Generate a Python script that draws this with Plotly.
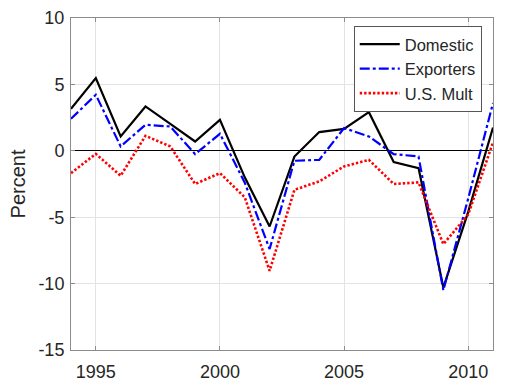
import plotly.graph_objects as go

years = list(range(1994, 2012))
domestic = [3.16, 5.47, 1.08, 3.34, 2.03, 0.70, 2.33, -2.0, -5.7, -0.43, 1.41, 1.65, 2.91, -0.85, -1.30, -10.3, -4.6, 1.75]
exporters = [2.41, 4.22, 0.33, 1.96, 1.83, -0.25, 1.28, -2.4, -7.4, -0.75, -0.68, 1.71, 1.08, -0.25, -0.43, -10.5, -3.6, 3.59]
usmult = [-1.68, -0.23, -1.88, 1.13, 0.33, -2.50, -1.68, -3.5, -9.04, -2.94, -2.30, -1.18, -0.68, -2.50, -2.38, -7.03, -4.8, 0.63]

xticks = [1995, 2000, 2005, 2010]
yticks = [-15, -10, -5, 0, 5, 10]
yticklabels = ["-15", "-10", "-5", "0", "5", "10"]

FONT = "Liberation Sans, Arial, Helvetica"

fig = go.Figure()
fig.add_trace(go.Scatter(x=years, y=domestic, name="Domestic", mode="lines",
                         line=dict(color="black", width=2.2)))
fig.add_trace(go.Scatter(x=years, y=exporters, name="Exporters", mode="lines",
                         line=dict(color="#0000ff", width=2.2, dash="10px,3px,3px,3px")))
fig.add_trace(go.Scatter(x=years, y=usmult, name="U.S. Mult", mode="lines",
                         line=dict(color="#ff0000", width=2.6, dash="2.4px,2px")))

axis_common = dict(showgrid=True, gridcolor="#e3e3e3", gridwidth=1,
                   showline=True, linecolor="#8c8c8c", linewidth=1, mirror="ticks",
                   ticks="inside", ticklen=4, tickcolor="#8c8c8c", automargin=False,
                   tickfont=dict(family=FONT, size=18, color="#262626"))

fig.update_xaxes(range=[1994, 2011], tickvals=xticks, zeroline=False,
                 ticklabelstandoff=5, **axis_common)
fig.update_yaxes(range=[-15, 10], tickvals=yticks, ticktext=yticklabels,
                 zeroline=True, zerolinecolor="black",
                 zerolinewidth=1, ticklabelstandoff=2,
                 title=dict(text="Percent", font=dict(family=FONT, size=20, color="#262626"),
                            standoff=7),
                 **axis_common)

fig.update_layout(
    width=510, height=388,
    margin=dict(l=71, r=17, t=18, b=38),
    plot_bgcolor="white", paper_bgcolor="white",
    legend=dict(x=0.67, y=0.976, xanchor="left", yanchor="top",
                bgcolor="white", bordercolor="#555555", borderwidth=1,
                font=dict(family=FONT, size=16.5, color="#262626"),
                tracegroupgap=0, itemwidth=40),
    showlegend=True,
)

fig.write_html("out.html", config={"displayModeBar": False},
               post_script="document.body.style.margin='0';")
